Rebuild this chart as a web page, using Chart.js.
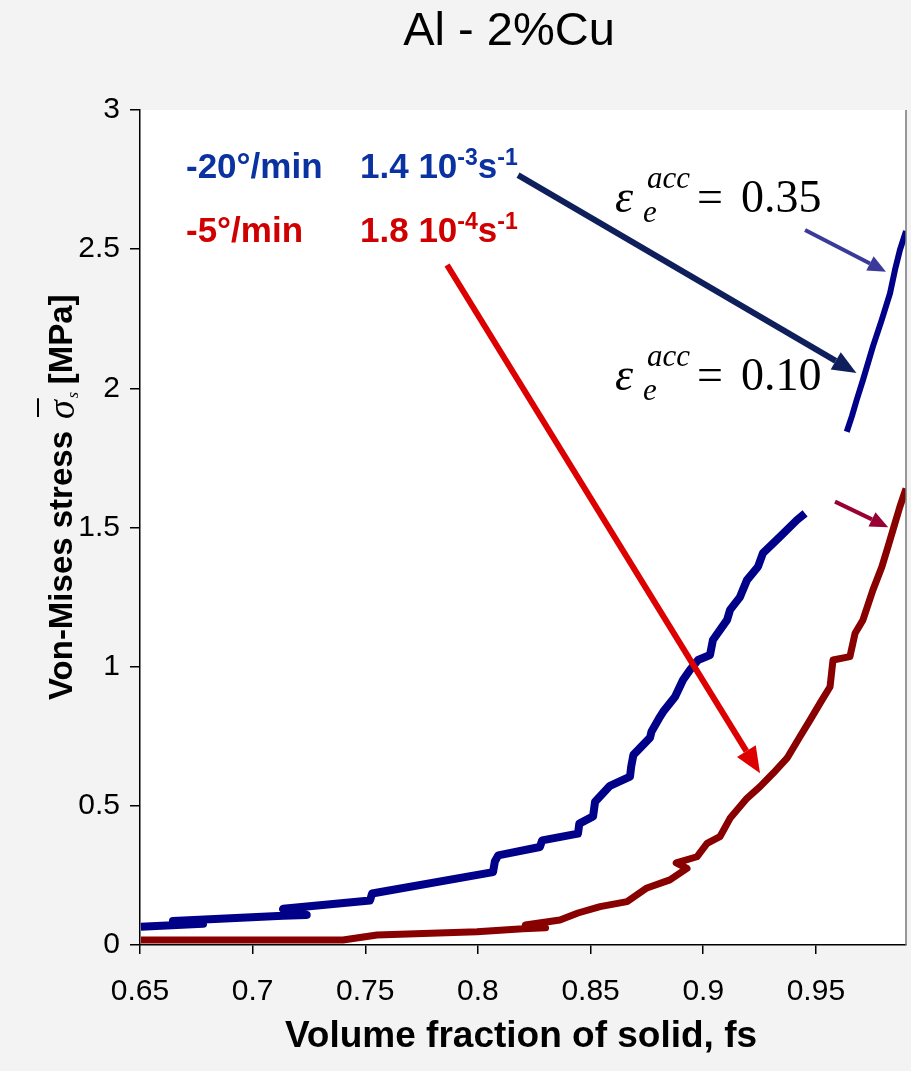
<!DOCTYPE html>
<html>
<head>
<meta charset="utf-8">
<script src="https://cdn.jsdelivr.net/npm/chart.js@4.4.1/dist/chart.umd.min.js"></script>
<style>
  html, body { margin: 0; padding: 0; background: #f3f3f3; }
  canvas { display: block; }
</style>
</head>
<body>
<canvas id="c" width="911" height="1071"></canvas>
<script>
// ---- data ----
const xTicks = [0.65, 0.7, 0.75, 0.8, 0.85, 0.9, 0.95];
const yTicks = [0, 0.5, 1, 1.5, 2, 2.5, 3];

// -20°/min, accumulated strain 0.10 branch
const blueLowX = [0.6504,0.6780,0.6646,0.7135,0.7240,0.7135,0.7521,0.7530,0.8067,0.8075,0.8090,0.8275,0.8285,0.8444,0.8450,0.8511,0.8520,0.8586,0.8675,0.8680,0.8690,0.8764,0.8770,0.8808,0.8822,0.8875,0.8910,0.8941,0.8977,0.9030,0.9043,0.9106,0.9119,0.9163,0.9194,0.9243,0.9265,0.9341,0.9416,0.9452];
const blueLowY = [0.066,0.076,0.086,0.105,0.108,0.130,0.160,0.185,0.262,0.300,0.322,0.352,0.376,0.400,0.436,0.462,0.515,0.572,0.605,0.640,0.683,0.745,0.766,0.820,0.838,0.892,0.952,0.988,1.024,1.042,1.096,1.168,1.204,1.250,1.311,1.359,1.408,1.467,1.527,1.551];
// -20°/min, accumulated strain 0.35 branch
const blueHighX = [0.9637,0.9660,0.9681,0.9709,0.9753,0.9792,0.9829,0.9851,0.9873,0.9900];
const blueHighY = [1.844,1.900,1.958,2.030,2.150,2.245,2.341,2.425,2.497,2.565];
// -5°/min
const redX = [0.6504,0.7000,0.7401,0.7552,0.7996,0.8200,0.8300,0.8210,0.8364,0.8444,0.8542,0.8662,0.8750,0.8852,0.8928,0.8880,0.8972,0.9017,0.9074,0.9119,0.9194,0.9252,0.9310,0.9372,0.9429,0.9474,0.9518,0.9563,0.9576,0.9651,0.9674,0.9709,0.9753,0.9793,0.9820,0.9851,0.9873,0.9900];
const redY = [0.018,0.018,0.018,0.036,0.048,0.058,0.062,0.072,0.090,0.115,0.138,0.156,0.205,0.234,0.275,0.295,0.317,0.365,0.389,0.455,0.527,0.569,0.617,0.671,0.748,0.808,0.868,0.928,1.024,1.036,1.120,1.168,1.275,1.359,1.431,1.515,1.575,1.640];

// annotation arrows, in data units: [x1, y1, x2, y2]
const arrowNavy   = [0.8178, 2.766, 0.9680, 2.055];
const arrowRed    = [0.7863, 2.443, 0.9252, 0.617];
const arrowPurple = [0.9452, 2.569, 0.9811, 2.419];
const arrowMaroon = [0.9585, 1.593, 0.9821, 1.501];

const toPts = (xs, ys) => xs.map((x, i) => ({ x: x, y: ys[i] }));

const SANS = '"Liberation Sans", Arial, sans-serif';
const SERIF = '"Liberation Serif", "Times New Roman", serif';

function runs(ctx, x, y, parts) {
  let cx = x;
  for (const p of parts) {
    ctx.font = p[1];
    ctx.fillStyle = p[2];
    cx += (p[4] || 0);
    ctx.fillText(p[0], cx, y + (p[3] || 0));
    cx += ctx.measureText(p[0]).width;
  }
  return cx;
}

function arrow(ctx, xs, ys, a, color, width, headLen, headW) {
  const x1 = xs.getPixelForValue(a[0]), y1 = ys.getPixelForValue(a[1]);
  const x2 = xs.getPixelForValue(a[2]), y2 = ys.getPixelForValue(a[3]);
  const ang = Math.atan2(y2 - y1, x2 - x1);
  const bx = x2 - headLen * Math.cos(ang), by = y2 - headLen * Math.sin(ang);
  ctx.save();
  ctx.strokeStyle = color; ctx.fillStyle = color;
  ctx.lineWidth = width; ctx.lineCap = 'butt';
  ctx.beginPath(); ctx.moveTo(x1, y1); ctx.lineTo(bx, by); ctx.stroke();
  ctx.beginPath();
  ctx.moveTo(x2, y2);
  ctx.lineTo(bx + headW * Math.sin(ang), by - headW * Math.cos(ang));
  ctx.lineTo(bx - headW * Math.sin(ang), by + headW * Math.cos(ang));
  ctx.closePath(); ctx.fill();
  ctx.restore();
}

const deco = {
  id: 'deco',
  beforeDraw(chart) {
    const ctx = chart.ctx, a = chart.chartArea;
    ctx.save();
    ctx.fillStyle = '#f3f3f3';
    ctx.fillRect(0, 0, chart.width, chart.height);
    ctx.fillStyle = '#ffffff';
    ctx.fillRect(a.left, a.top, a.right - a.left, a.bottom - a.top);
    ctx.restore();
  },
  afterDraw(chart) {
    const ctx = chart.ctx, a = chart.chartArea;
    const xs = chart.scales.x, ys = chart.scales.y;
    ctx.save();
    ctx.strokeStyle = '#777777'; ctx.lineWidth = 1.5;
    ctx.beginPath(); ctx.moveTo(a.right, a.top); ctx.lineTo(a.right, a.bottom); ctx.stroke();

    arrow(ctx, xs, ys, arrowNavy, '#0f1f5c', 6, 24, 10);
    arrow(ctx, xs, ys, arrowRed, '#dd0000', 6, 26, 11);
    arrow(ctx, xs, ys, arrowPurple, '#3a3a9a', 4, 18, 8);
    arrow(ctx, xs, ys, arrowMaroon, '#990033', 4, 18, 8);

    ctx.textBaseline = 'alphabetic';
    ctx.textAlign = 'center';
    ctx.fillStyle = '#000';
    ctx.font = '47px ' + SANS;
    ctx.fillText('Al - 2%Cu', 509, 45);

    ctx.font = 'bold 37px ' + SANS;
    ctx.fillText('Volume fraction of solid, fs', 521, 1047);

    ctx.textAlign = 'left';
    const B = 'bold 35px ' + SANS, Bs = 'bold 23px ' + SANS;
    const blue = '#0a32a0', red = '#d00000';
    runs(ctx, 186, 178, [['-20°/min', B, blue]]);
    runs(ctx, 360, 178, [['1.4 10', B, blue], ['-3', Bs, blue, -13], ['s', B, blue], ['-1', Bs, blue, -13]]);
    runs(ctx, 186, 242, [['-5°/min', B, red]]);
    runs(ctx, 360, 242, [['1.8 10', B, red], ['-4', Bs, red, -13], ['s', B, red], ['-1', Bs, red, -13]]);

    const eps = (y, val) => {
      ctx.fillStyle = '#000';
      ctx.font = 'italic 46px ' + SERIF;
      ctx.fillText('ε', 615, y);
      ctx.font = 'italic 31px ' + SERIF;
      ctx.fillText('acc', 647, y - 24);
      ctx.fillText('e', 643, y + 10);
      ctx.font = '46px ' + SERIF;
      ctx.fillText('=', 697, y);
      ctx.fillText(val, 741, y);
    };
    eps(212, '0.35');
    eps(390, '0.10');

    ctx.translate(72, 700);
    ctx.rotate(-Math.PI / 2);
    ctx.fillStyle = '#000';
    ctx.font = 'bold 33px ' + SANS;
    ctx.fillText('Von-Mises stress', 0, 0);
    const w = ctx.measureText('Von-Mises stress').width;
    ctx.font = 'italic 38px ' + SERIF;
    const sx = w + 12;
    ctx.fillText('σ', sx, 2);
    const sw = ctx.measureText('σ').width;
    ctx.fillRect(sx + 2, -35, sw, 2);
    ctx.font = 'italic 16px ' + SERIF;
    ctx.fillText('s', sx + sw + 2, 6);
    ctx.font = 'bold 33px ' + SANS;
    ctx.fillText('[MPa]', sx + sw + 16, 0);
    ctx.restore();
  }
};

new Chart(document.getElementById('c'), {
  type: 'scatter',
  data: {
    datasets: [
      { data: toPts(blueLowX, blueLowY), showLine: true, borderColor: '#000088', borderWidth: 8, pointRadius: 0, tension: 0 },
      { data: toPts(blueHighX, blueHighY), showLine: true, borderColor: '#000088', borderWidth: 6, pointRadius: 0, tension: 0 },
      { data: toPts(redX, redY), showLine: true, borderColor: '#880000', borderWidth: 7, pointRadius: 0, tension: 0 }
    ]
  },
  options: {
    responsive: false,
    animation: false,
    events: [],
    layout: { padding: { top: 110, right: 5, left: 0, bottom: 0 } },
    plugins: { legend: { display: false }, tooltip: { enabled: false }, title: { display: false } },
    elements: { line: { borderJoinStyle: 'round' } },
    scales: {
      x: {
        type: 'linear', min: 0.65, max: 0.99,
        afterBuildTicks: s => { s.ticks = xTicks.map(v => ({ value: v })); },
        afterFit: s => { s.height = 126; },
        ticks: { font: { family: SANS, size: 30 }, color: '#000', padding: 20, maxRotation: 0, autoSkip: false, callback: v => String(v) },
        grid: { drawOnChartArea: false, drawTicks: true, tickLength: 9, color: '#000', lineWidth: 1.5 },
        border: { color: '#000', width: 1.5 }
      },
      y: {
        type: 'linear', min: 0, max: 3,
        afterBuildTicks: s => { s.ticks = yTicks.map(v => ({ value: v })); },
        afterFit: s => { s.width = 140; },
        ticks: { font: { family: SANS, size: 30 }, color: '#000', padding: 10, autoSkip: false, callback: v => String(v) },
        grid: { drawOnChartArea: false, drawTicks: true, tickLength: 10, color: '#000', lineWidth: 1.5 },
        border: { color: '#000', width: 1.5 }
      }
    }
  },
  plugins: [deco]
});
</script>
</body>
</html>
